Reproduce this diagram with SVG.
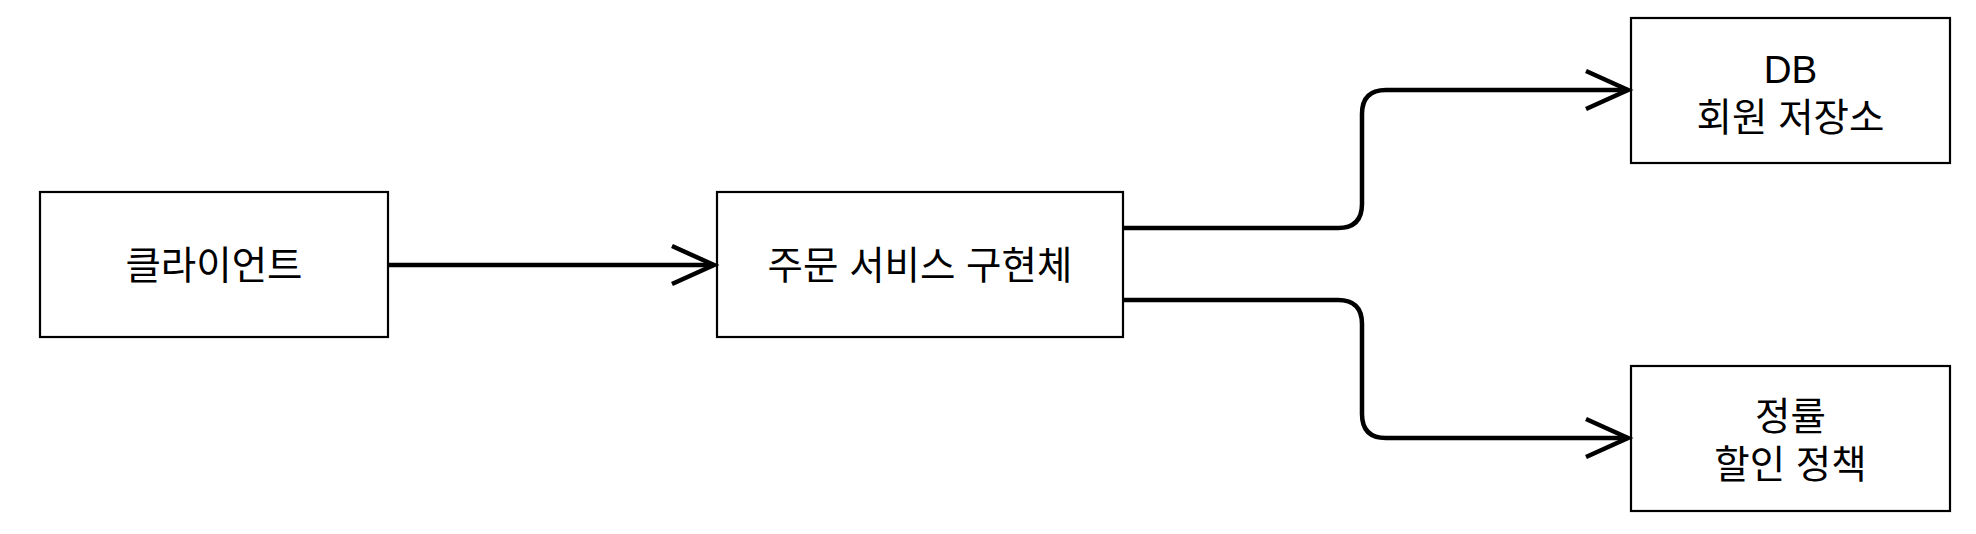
<svg xmlns="http://www.w3.org/2000/svg" width="1976" height="534" viewBox="0 0 1976 534">
  <style>
    .box { fill: #ffffff; stroke: #000000; stroke-width: 2.2; }
    .lbl { font-family: "Liberation Sans", "Noto Sans CJK KR", sans-serif; font-size: 38.5px; fill: #000000; text-anchor: middle; }
    .edge { fill: none; stroke: #000000; stroke-width: 4.5; }
  </style>
  <defs>
    <marker id="arr" markerUnits="userSpaceOnUse" markerWidth="60" markerHeight="60" refX="0" refY="0" orient="auto" overflow="visible">
      <path d="M -42 -19 L 0 0 L -42 19" fill="none" stroke="#000000" stroke-width="4.5"/>
    </marker>
  </defs>
  <rect width="1976" height="534" fill="#ffffff"/>

  <g id="client">
    <rect class="box" x="40" y="192" width="348" height="145"/>
    <text class="lbl" x="214" y="279">클라이언트</text>
  </g>

  <g id="order-service">
    <rect class="box" x="717" y="192" width="406" height="145"/>
    <text class="lbl" x="920" y="279">주문 서비스 구현체</text>
  </g>

  <g id="db">
    <rect class="box" x="1631" y="18" width="319" height="145"/>
    <text class="lbl" x="1790.5" y="83">DB</text>
    <text class="lbl" x="1790.5" y="131">회원 저장소</text>
  </g>

  <g id="policy">
    <rect class="box" x="1631" y="366" width="319" height="145"/>
    <text class="lbl" x="1790.5" y="430">정률</text>
    <text class="lbl" x="1790.5" y="478">할인 정책</text>
  </g>

  <g id="connectors">
    <path class="edge" d="M 389 265 L 714 265" marker-end="url(#arr)"/>
    <path class="edge" d="M 1124 228 H 1338 Q 1362 228 1362 204 V 114 Q 1362 90 1386 90 H 1628" marker-end="url(#arr)"/>
    <path class="edge" d="M 1124 300 H 1338 Q 1362 300 1362 324 V 414 Q 1362 438 1386 438 H 1628" marker-end="url(#arr)"/>
  </g>
</svg>
